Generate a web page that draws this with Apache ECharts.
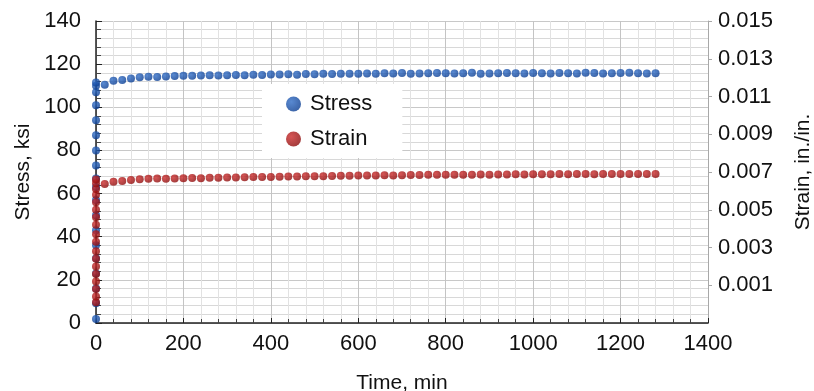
<!DOCTYPE html>
<html>
<head>
<meta charset="utf-8">
<script src="https://cdn.jsdelivr.net/npm/echarts@6/dist/echarts.min.js"></script>
<style>
  html, body { margin: 0; padding: 0; background: #fff; }
  #chart { width: 814px; height: 391px; }
</style>
</head>
<body>
<div id="chart"></div>
<script>
// loading phase, all read at time ~0
const loadStress = [1.9, 9.2, 16, 23, 30, 36, 43, 50, 57, 63, 67, 73, 80, 87, 94, 101, 107, 110, 111.5];
const loadStrain = [0.0001, 0.0004, 0.0008, 0.0012, 0.0016, 0.0020, 0.0024, 0.0028, 0.0033, 0.0037,
    0.0042, 0.0046, 0.0050, 0.0054, 0.0058, 0.0061, 0.0064, 0.0066];

// hold phase (min)
const times = [20, 40, 60, 80, 100, 120, 140, 160, 180, 200,
    220, 240, 260, 280, 300, 320, 340, 360, 380, 400,
    420, 440, 460, 480, 500, 520, 540, 560, 580, 600,
    620, 640, 660, 680, 700, 720, 740, 760, 780, 800,
    820, 840, 860, 880, 900, 920, 940, 960, 980, 1000,
    1020, 1040, 1060, 1080, 1100, 1120, 1140, 1160, 1180, 1200,
    1220, 1240, 1260, 1280];
const stress = [110.5, 112.3, 112.6, 113.4, 113.9, 114.2, 114.0, 114.3, 114.5, 114.6,
    114.6, 114.7, 114.8, 114.7, 114.9, 115.0, 114.9, 115.1, 115.0, 115.2,
    115.2, 115.3, 115.1, 115.4, 115.3, 115.5, 115.4, 115.5, 115.6, 115.5,
    115.7, 115.6, 115.8, 115.7, 115.9, 115.6, 115.7, 115.8, 115.9, 115.8,
    115.7, 115.8, 116.0, 115.6, 115.7, 115.8, 115.9, 115.8, 115.7, 115.9,
    115.8, 115.7, 115.9, 115.8, 115.7, 116.0, 115.9, 115.7, 115.8, 115.9,
    116.0, 115.8, 115.7, 115.8];
const strain = [0.00637, 0.00649, 0.00652, 0.00658, 0.00661, 0.00664, 0.00665, 0.00664, 0.00666, 0.00667,
    0.00668, 0.00667, 0.00669, 0.00670, 0.00671, 0.00671, 0.00672, 0.00673, 0.00674, 0.00674,
    0.00675, 0.00676, 0.00676, 0.00677, 0.00678, 0.00678, 0.00679, 0.00680, 0.00680, 0.00681,
    0.00681, 0.00682, 0.00683, 0.00682, 0.00683, 0.00684, 0.00684, 0.00685, 0.00685, 0.00685,
    0.00686, 0.00686, 0.00685, 0.00687, 0.00686, 0.00687, 0.00687, 0.00688, 0.00687, 0.00688,
    0.00688, 0.00688, 0.00689, 0.00688, 0.00689, 0.00689, 0.00688, 0.00689, 0.00689, 0.00689,
    0.00689, 0.00690, 0.00689, 0.00689];

const FONT = "Liberation Sans";

let stressData = loadStress.map(v => [0, v]);
let strainData = loadStrain.map(v => [0, v]);
for (let i = 0; i < times.length; i++) {
    stressData.push([times[i], stress[i]]);
    strainData.push([times[i], strain[i]]);
}

function ball(c1, c2) {
    return new echarts.graphic.RadialGradient(0.35, 0.35, 0.75, [
        { offset: 0, color: c1 },
        { offset: 1, color: c2 }
    ]);
}

const myChart = echarts.init(document.getElementById("chart"));
const option = {
    animation: false,
    grid: { left: 96, right: 106, top: 21, bottom: 68, outerBoundsMode: "none", containLabel: false },
    legend: {
        orient: "vertical",
        left: 262,
        top: 84,
        backgroundColor: "#fff",
        padding: [9, 30, 8, 24],
        itemGap: 13,
        itemWidth: 15,
        itemHeight: 15,
        icon: "circle",
        textStyle: { fontFamily: FONT, fontSize: 22, color: "#111", padding: [0, 0, 0, 4] },
        data: ["Stress", "Strain"]
    },
    xAxis: [
        {
            type: "value",
            min: 0, max: 1400, interval: 200,
            name: "Time, min",
            nameLocation: "middle",
            nameGap: 50,
            nameTextStyle: { fontFamily: FONT, fontSize: 21, color: "#111" },
            axisLine: { onZero: false, lineStyle: { color: "#222", width: 1.5 } },
            axisTick: { inside: true, length: 5, lineStyle: { color: "#222" } },
            minorTick: { show: true, splitNumber: 5, length: 4, lineStyle: { color: "#444" } },
            axisLabel: { fontFamily: FONT, fontSize: 22, color: "#111", margin: 10, formatter: v => String(v) },
            splitLine: { show: true, lineStyle: { color: "#c4c4c4", width: 1 } },
            minorSplitLine: { show: true, lineStyle: { color: "#e2e2e2", width: 1 } }
        }
    ],
    yAxis: [
        {
            type: "value",
            position: "left",
            min: 0, max: 140, interval: 20,
            name: "Stress, ksi",
            nameLocation: "middle",
            nameGap: 62,
            nameTextStyle: { fontFamily: FONT, fontSize: 21, color: "#111" },
            axisLine: { show: true, onZero: false, lineStyle: { color: "#222", width: 1.5 } },
            axisTick: { show: true, inside: true, length: 6, lineStyle: { color: "#222" } },
            minorTick: { show: true, splitNumber: 5, length: 5, lineStyle: { color: "#444" } },
            axisLabel: { fontFamily: FONT, fontSize: 22, color: "#111", margin: 15 },
            splitLine: { show: true, lineStyle: { color: "#c8c8c8", width: 1 } },
            minorSplitLine: { show: true, lineStyle: { color: "#d8d8d8", width: 1 } }
        },
        {
            type: "value",
            position: "right",
            min: -0.001, max: 0.015, interval: 0.002,
            name: "Strain, in./in.",
            nameLocation: "middle",
            nameGap: 85,
            nameTextStyle: { fontFamily: FONT, fontSize: 21, color: "#111" },
            axisLine: { show: true, onZero: false, lineStyle: { color: "#a8a8a8", width: 1 } },
            axisTick: { show: true, length: 4, lineStyle: { color: "#a8a8a8" } },
            axisLabel: {
                fontFamily: FONT, fontSize: 22, color: "#111", margin: 10,
                showMinLabel: false,
                formatter: v => v.toFixed(3)
            },
            splitLine: { show: false }
        }
    ],
    series: [
        {
            name: "Stress",
            type: "scatter",
            xAxisIndex: 0,
            yAxisIndex: 0,
            symbolSize: 8,
            itemStyle: { color: ball("#2f6cc6", "#083a8e") },
            data: stressData,
            z: 3
        },
        {
            name: "Strain",
            type: "scatter",
            xAxisIndex: 0,
            yAxisIndex: 1,
            symbolSize: 8,
            itemStyle: { color: ball("#cc2a2a", "#880a0a") },
            data: strainData,
            z: 4
        }
    ]
};
myChart.setOption(option);
</script>
</body>
</html>
